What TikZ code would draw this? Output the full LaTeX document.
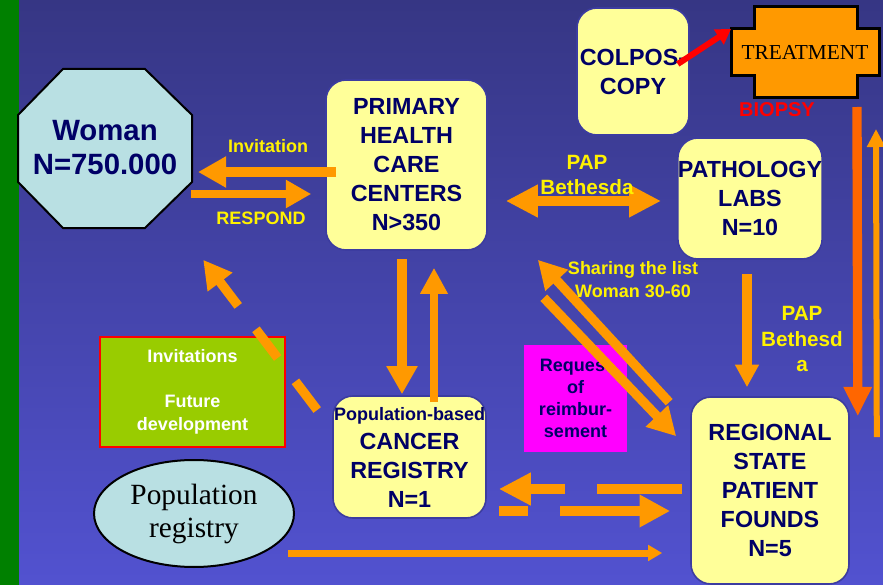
\documentclass[tikz,border=0pt]{standalone}
\usepackage{fontspec}
\setmainfont{Liberation Sans}
\newfontfamily\timesfont{Liberation Serif}
\usetikzlibrary{arrows.meta,shapes.geometric,calc}
\definecolor{fondoarriba}{HTML}{363684}
\definecolor{fondoabajo}{HTML}{5252D0}
\definecolor{franja}{HTML}{008000}
\definecolor{azultexto}{HTML}{000066}
\definecolor{cajaamarilla}{HTML}{FFFF99}
\definecolor{bordecaja}{HTML}{3C3CA0}
\definecolor{celeste}{HTML}{B9E0E3}
\definecolor{naranja}{HTML}{FF9900}
\definecolor{naranjaosc}{HTML}{FF6600}
\definecolor{verdecaja}{HTML}{99CC00}
\definecolor{rosa}{HTML}{FF00FF}

\begin{document}
\begin{tikzpicture}[x=0.75pt, y=-0.75pt,
    box/.style={draw=bordecaja, line width=1.2pt, fill=cajaamarilla, rectangle, rounded corners=15pt, text=azultexto, font=\fontsize{17.5}{21.75}\selectfont\bfseries, align=center, inner sep=0pt},
    lbl/.style={text=yellow, font=\fontsize{13.5}{17.25}\selectfont\bfseries, align=center, inner sep=0pt},
    flecha/.style={draw=naranja, line width=7pt, -{Triangle[length=21pt, width=22pt]}}]

  % Fondo y franja verde
  \useasboundingbox (0,0) rectangle (883,585);
  \shade[top color=fondoarriba, bottom color=fondoabajo] (0,0) rectangle (883,585);
  \fill[franja] (0,0) rectangle (19,585);

  % Octogono de Woman
  \draw[black, line width=1.5pt, fill=celeste] (63,69) -- (145,69) -- (192,115) -- (192,182) -- (145,228) -- (63,228) -- (18,182) -- (18,115) -- cycle;
  \node[inner sep=0pt, text=azultexto, font=\fontsize{22}{25.5}\selectfont\bfseries, align=center] (woman) at (105,148) {Woman\\N=750.000};

  % Nodos principales
  \node[box, minimum width=120.75pt, minimum height=127.5pt] (primary) at (406.5,165) {PRIMARY\\HEALTH\\CARE\\CENTERS\\N>350};
  \node[box, minimum width=84pt, minimum height=95.25pt] (colpos) at (633,71.5) {COLPOS-\\COPY};
  \node[box, minimum width=106.5pt, minimum height=90.75pt] (pathology) at (750,198.5) {PATHOLOGY\\LABS\\N=10};
  \node[box, minimum width=114.75pt, minimum height=91.5pt] (cancer) at (409.5,457) {{\fontsize{13.5}{16}\selectfont Population-based}\\CANCER\\REGISTRY\\N=1};
  \node[box, minimum width=118.5pt, minimum height=140.25pt] (regional) at (770,490.5) {REGIONAL\\STATE\\PATIENT\\FOUNDS\\N=5};

  % Nodos secundarios
  \node[rectangle, draw=red, line width=1.5pt, fill=verdecaja, minimum width=138.75pt, minimum height=82.5pt, text=white, font=\fontsize{13.5}{17.25}\selectfont\bfseries, align=center] (futuro) at (192.5,392) {Invitations\\[16.5pt]Future\\development};
  \node[rectangle, fill=rosa, minimum width=77.25pt, minimum height=80.25pt, text=azultexto, font=\fontsize{13.5}{16.5}\selectfont\bfseries, align=center] (reemb) at (575.5,398.5) {Request\\of\\reimbur-\\sement};
  \node[ellipse, draw=black, line width=1.5pt, fill=celeste, minimum width=150pt, minimum height=80.25pt, inner sep=0pt, align=center, font=\timesfont\fontsize{22}{24.75}\selectfont] (popreg) at (194,513.5) {Population\\registry};

  % Cruz de tratamiento
  \draw[black, line width=2.25pt, fill=naranja] (754,7) -- (857,7) -- (857,29) -- (879,29) -- (879,76) -- (857,76) -- (857,98) -- (754,98) -- (754,76) -- (731,76) -- (731,29) coordinate (cruzizq) -- (754,29) -- cycle;
  \node[inner sep=0pt, font=\timesfont\fontsize{16}{19}\selectfont] (treat) at (805,52) {TREATMENT};
  \node[inner sep=0pt, text=red, font=\fontsize{15}{18}\selectfont\bfseries] (biopsy) at (777,110) {BIOPSY};

  % Flechas Woman <-> centros
  \draw[flecha] ($(primary.west)+(11,7)$) -- ($(woman)+(93,24)$);
  \draw[flecha, line width=6.5pt, -{Triangle[length=19pt, width=20pt]}] ($(woman)+(86,46)$) -- ($(primary.west)+(-14,29)$);

  % Flechas centros <-> registro
  \draw[flecha] ($(primary.south)+(-4.5,8)$) -- ($(cancer.north)+(-7.5,-1)$);
  \draw[flecha, line width=6pt, -{Triangle[length=19.5pt, width=19.5pt]}] ($(cancer.north)+(24.5,7)$) -- ($(primary.south)+(27.5,17)$);
  \draw[flecha, dash pattern=on 27pt off 22pt] ($(cancer.west)+(-15,-47)$) -- ($(primary.south west)+(-122,9)$);

  % PAP Bethesda
  \draw[flecha, line width=7.5pt, {Triangle[length=24pt, width=23pt]}-{Triangle[length=24pt, width=23pt]}] ($(primary.east)+(18,36)$) -- ($(pathology.west)+(-16,2.5)$);
  \draw[flecha, -{Triangle[length=17pt, width=17pt]}] ($(pathology.south)+(-3,14)$) -- ($(regional.north)+(-23,-9)$);

  % Diagonales
  \draw[flecha] ($(regional.north west)+(-21,6)$) -- ($(primary.south east)+(50,9)$);
  \draw[flecha] ($(primary.south east)+(56,47)$) -- ($(regional.north west)+(-14,40)$);

  % Registro <-> fondos regionales
  \draw[flecha, line width=7.5pt, -{Triangle[length=24pt, width=23pt]}, dash pattern=on 63.75pt off 24pt on 40pt] ($(regional.west)+(-8,-1.5)$) -- ($(cancer.east)+(12,32)$);
  \draw[flecha, line width=7.5pt, -{Triangle[length=23pt, width=23pt]}, dash pattern=on 21.75pt off 24pt on 80pt] ($(cancer.east)+(12,54)$) -- ($(regional.west)+(-20,20.5)$);
  \draw[flecha, line width=5.25pt, -{Triangle[length=10.5pt, width=11.5pt]}] ($(popreg.east)+(-7,39.5)$) -- ($(regional.west)+(-28,62.5)$);

  % Tratamiento
  \draw[red, line width=4.5pt, -{Triangle[length=11pt, width=13pt]}] ($(colpos.east)+(-12,-7.5)$) -- (cruzizq);
  \draw[flecha, draw=naranjaosc, -{Triangle[length=22pt, width=20pt]}] ($(treat)+(52,55)$) -- ($(regional.north east)+(8,20)$);
  \draw[flecha, line width=4.5pt, -{Triangle[length=13.5pt, width=13pt]}] ($(regional.north east)+(27,41)$) -- ($(treat)+(71,77)$);

  % Etiquetas
  \node[lbl] (linvit) at (268,146) {Invitation};
  \node[lbl] (lresp) at (261,218) {RESPOND};
  \node[lbl, font=\fontsize{15.5}{18.75}\selectfont\bfseries] (lpap) at (587,175) {PAP\\Bethesda};
  \node[lbl, font=\fontsize{15.5}{19}\selectfont\bfseries] (lpapdos) at (802,339) {PAP\\Bethesd\\a};
  \node[lbl] (lshare) at (633,280) {Sharing the list\\Woman 30-60};

\end{tikzpicture}
\end{document}
